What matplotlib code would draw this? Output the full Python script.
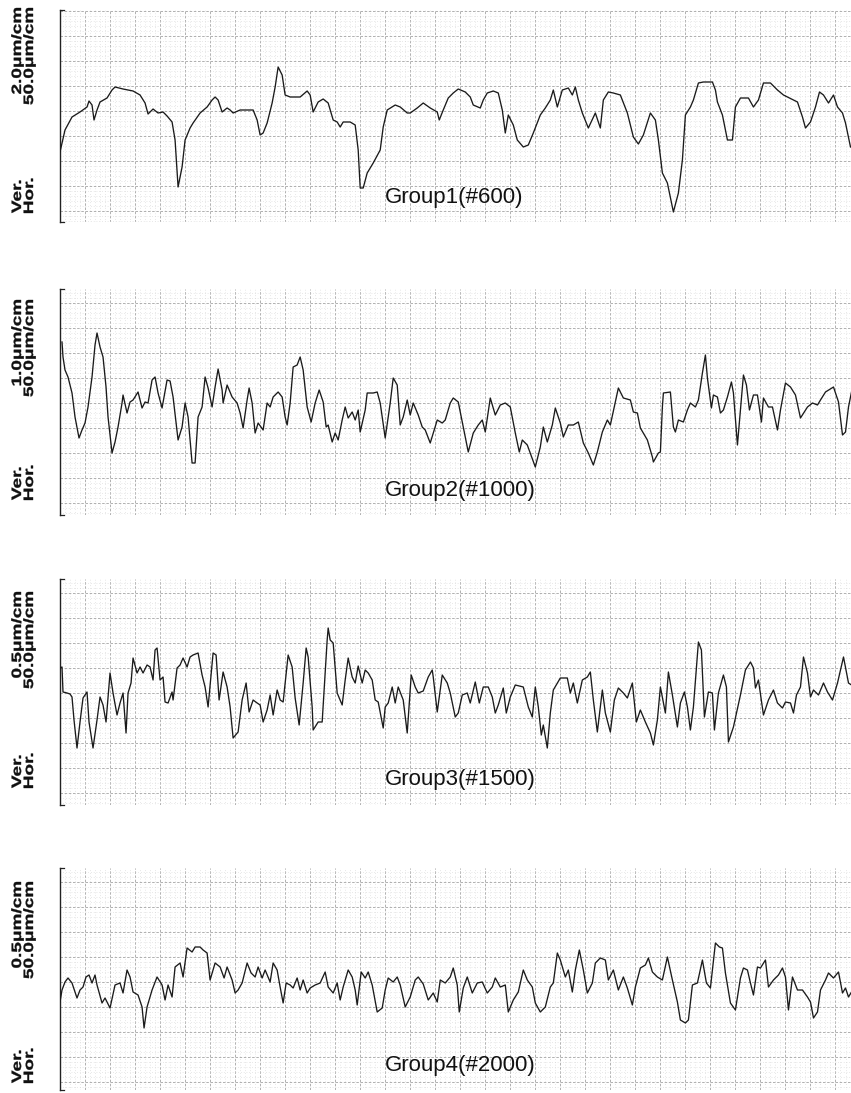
import numpy as np
import matplotlib
matplotlib.use('Agg')
import matplotlib.pyplot as plt
from matplotlib.textpath import TextPath
from matplotlib.patches import PathPatch
from matplotlib.font_manager import FontProperties
from matplotlib.transforms import Affine2D

# --- data: surface profiles, (position, height) in grid units
# (one major grid division = 25 units on both axes)
group_names = ['Group1(#600)', 'Group2(#1000)', 'Group3(#1500)', 'Group4(#2000)']
ver_scale = ['2.0\u03bcm/cm', '1.0\u03bcm/cm', '0.5\u03bcm/cm', '0.5\u03bcm/cm']
hor_scale = ['50.0\u03bcm/cm', '50.0\u03bcm/cm', '50.0\u03bcm/cm', '50.0\u03bcm/cm']

profile1 = [(0,-41),(5,-19),(12,-6),(20,-1),(27,4),(29,10),(32,6),(34,-9),(37,1),(40,9),(47,13),(52,21),(55,24),(63,22),(73,20),(80,16),(85,8),(88,-3),(93,2),(98,-2),(103,-1),(107,-5),(112,-11),(115,-29),(118,-76),(122,-56),(125,-29),(130,-17),(133,-12),(140,-2),(147,4),(152,11),(155,14),(158,11),(162,-1),(167,3),(170,1),(173,-2),(180,1),(193,1),(197,-9),(200,-24),(203,-22),(207,-12),(212,8),(215,24),(218,44),(222,36),(225,16),(230,14),(240,14),(247,20),(250,16),(253,-1),(258,9),(263,12),(268,8),(273,-9),(277,-11),(280,-16),(283,-11),(290,-11),(295,-14),(298,-39),(300,-77),(303,-77),(307,-62),(313,-52),(320,-39),(323,-16),(327,1),(335,6),(340,4),(347,-2),(350,-2),(357,3),(363,8),(370,3),(377,-1),(379,-9),(383,1),(388,13),(393,18),(398,22),(405,19),(410,14),(413,6),(420,3),(423,11),(427,18),(433,20),(438,18),(442,1),(445,-22),(448,-4),(453,-14),(457,-29),(463,-36),(468,-34),(473,-22),(480,-4),(485,3),(490,11),(493,21),(497,4),(502,21),(508,23),(512,16),(515,24),(518,11),(522,-2),(528,-17),(535,-2),(540,-17),(543,11),(548,19),(553,18),(560,16),(567,-2),(573,-26),(578,-33),(583,-24),(590,-2),(595,-9),(598,-29),(602,-62),(607,-72),(613,-101),(618,-82),(622,-49),(625,-4),(630,4),(633,11),(638,28),(643,29),(652,29),(655,21),(657,9),(662,-4),(667,-29),(672,-29),(675,4),(680,13),(688,13),(693,4),(698,11),(703,28),(710,28),(717,21),(723,16),(737,9),(742,-6),(745,-17),(750,-11),(755,4),(759,19),(763,16),(768,8),(773,16),(777,4),(782,-2),(785,-12),(790,-36)]

profile2 = [(2,61),(3,46),(5,33),(8,26),(12,10),(15,-14),(19,-35),(22,-27),(25,-20),(28,-4),(32,26),(35,58),(37,70),(40,56),(43,46),(46,16),(48,-14),(52,-50),(55,-39),(58,-24),(62,0),(63,8),(67,-10),(70,1),(73,3),(78,11),(82,-5),(85,1),(88,0),(92,23),(95,26),(98,10),(102,-5),(107,23),(110,22),(113,6),(118,-37),(122,-24),(125,0),(128,-14),(132,-60),(135,-60),(138,-14),(142,-4),(145,26),(148,15),(152,-4),(155,16),(158,34),(162,13),(163,0),(167,18),(172,6),(177,0),(180,-10),(183,-25),(187,3),(189,15),(192,0),(195,-30),(198,-20),(203,-27),(207,0),(210,-4),(213,6),(218,11),(222,6),(225,-14),(227,-22),(230,0),(233,36),(237,38),(240,46),(243,33),(247,-4),(251,-19),(255,0),(259,13),(263,1),(266,-24),(268,-22),(272,-39),(275,-30),(278,-37),(282,-17),(285,-4),(288,-15),(292,-9),(295,-17),(298,-7),(300,-29),(305,-7),(307,10),(313,10),(317,11),(320,0),(325,-35),(330,0),(333,25),(337,18),(340,-22),(343,-14),(347,3),(350,-12),(353,0),(358,-12),(362,-24),(365,-27),(370,-40),(377,-17),(382,-20),(385,-17),(390,0),(393,5),(398,1),(402,-19),(408,-49),(413,-30),(418,-22),(422,-17),(425,-29),(430,5),(435,-12),(440,-2),(445,0),(450,-4),(455,-30),(459,-49),(462,-37),(467,-42),(475,-64),(480,-44),(483,-24),(487,-39),(492,-22),(495,-5),(500,-20),(503,-34),(508,-22),(513,-22),(518,-19),(523,-40),(528,-50),(533,-62),(537,-49),(542,-29),(547,-17),(550,-22),(558,15),(563,5),(570,3),(573,-9),(577,-10),(580,-25),(587,-37),(592,-54),(593,-59),(598,-50),(600,-49),(602,-4),(603,10),(610,11),(613,-24),(615,-29),(618,-17),(623,-19),(627,-7),(630,0),(635,-4),(638,3),(642,30),(645,48),(647,25),(651,-5),(653,8),(657,6),(660,-10),(663,-7),(667,6),(671,21),(673,10),(677,-42),(680,-7),(683,28),(686,18),(689,-7),(693,8),(697,8),(701,-19),(703,5),(708,-4),(712,-4),(717,-27),(720,-7),(725,20),(730,16),(735,8),(740,-15),(747,-4),(752,0),(757,-2),(760,3),(765,11),(773,16),(778,1),(782,-32),(785,-29),(788,-4),(791,11)]

profile3 = [(0,25),(2,26),(3,1),(7,0),(10,-1),(12,-4),(14,-27),(17,-55),(20,-29),(23,-5),(27,1),(29,-29),(33,-55),(37,-27),(40,-4),(43,-12),(46,-29),(50,20),(53,0),(57,-22),(60,-10),(63,0),(66,-40),(68,0),(71,10),(73,35),(77,20),(80,26),(83,20),(87,28),(90,26),(93,13),(95,43),(97,45),(100,13),(103,16),(105,-9),(108,-10),(112,1),(113,-7),(117,25),(120,28),(123,35),(127,26),(130,36),(133,38),(138,40),(142,18),(145,6),(148,-14),(153,40),(156,38),(159,-7),(163,21),(167,6),(170,-14),(173,-45),(178,-39),(182,-7),(186,10),(189,-19),(193,-7),(197,-10),(200,-12),(203,-29),(207,-17),(210,-2),(213,-22),(217,3),(220,-7),(223,-9),(228,38),(232,26),(235,-5),(239,-32),(243,10),(246,45),(248,36),(252,-14),(253,-37),(258,-29),(262,-29),(267,53),(268,65),(270,53),(273,50),(277,0),(282,-12),(285,13),(288,35),(292,16),(295,10),(298,27),(302,10),(305,23),(308,20),(312,13),(315,-7),(318,-9),(323,-35),(325,-14),(328,-10),(332,6),(335,-10),(338,6),(343,-7),(347,-40),(351,18),(355,6),(358,0),(363,2),(368,16),(372,23),(373,16),(377,-19),(382,18),(387,10),(390,0),(395,-24),(398,-20),(402,-2),(407,0),(410,-10),(415,11),(419,-10),(423,6),(428,6),(432,-4),(435,-20),(438,-12),(443,5),(446,-20),(450,-4),(455,8),(463,6),(468,-14),(472,-24),(475,6),(478,-14),(481,-42),(483,-32),(487,-55),(490,-20),(493,3),(500,15),(507,15),(510,0),(513,10),(517,-10),(522,13),(527,16),(530,21),(533,-7),(537,-39),(542,3),(545,-20),(550,-39),(554,-7),(558,5),(563,0),(567,-5),(572,10),(576,-29),(580,-17),(585,-29),(590,-40),(593,-52),(597,-27),(600,6),(605,-20),(608,21),(612,-2),(617,-34),(620,-10),(624,1),(627,-14),(630,-37),(633,-14),(638,51),(641,43),(644,-24),(648,1),(652,0),(654,-37),(658,0),(663,18),(666,6),(668,-49),(673,-34),(680,-2),(685,23),(690,31),(693,25),(695,5),(698,13),(703,-22),(708,-7),(713,3),(717,-10),(722,-15),(725,-9),(730,-10),(733,-20),(736,-2),(740,6),(743,36),(747,20),(750,-4),(753,3),(758,-2),(763,10),(767,1),(772,-7),(777,10),(783,36),(788,10),(791,8)]

profile4 = [(0,-20),(2,-8),(5,0),(8,4),(12,-1),(17,-16),(20,-8),(23,-5),(26,5),(29,7),(32,-1),(35,7),(37,-3),(42,-21),(45,-16),(50,-26),(55,-3),(60,-1),(63,-11),(67,12),(70,5),(73,-10),(78,-13),(82,-25),(84,-46),(87,-25),(92,-8),(97,5),(102,-3),(105,-18),(108,-3),(112,-15),(115,15),(120,19),(123,5),(127,34),(132,30),(135,35),(140,35),(143,32),(147,29),(150,2),(155,19),(160,15),(164,4),(167,15),(172,2),(175,-11),(178,-8),(182,-1),(187,19),(191,9),(195,5),(198,15),(202,4),(205,12),(210,0),(213,19),(217,12),(220,-5),(223,-21),(226,-1),(230,-3),(233,-6),(237,4),(240,-8),(243,2),(247,-11),(250,-6),(255,-3),(260,-1),(265,10),(268,-5),(273,-11),(277,-1),(280,-18),(283,-5),(288,12),(292,5),(295,-8),(297,-23),(301,10),(305,4),(308,10),(312,-3),(317,-30),(322,-26),(325,-8),(328,4),(333,0),(337,5),(340,-3),(345,-25),(350,-15),(355,2),(358,5),(363,-2),(368,-18),(373,-11),(377,-20),(380,2),(385,-1),(390,5),(393,14),(397,-3),(399,-30),(403,-6),(407,5),(412,-11),(417,-1),(422,0),(427,-11),(432,-5),(435,4),(440,-5),(445,-3),(448,-30),(453,-18),(458,-10),(463,12),(467,2),(472,-5),(475,-21),(480,-30),(485,-25),(490,-5),(493,-1),(497,29),(500,22),(505,5),(508,12),(512,-10),(515,12),(519,32),(523,12),(527,-11),(532,-1),(535,19),(540,24),(545,22),(548,2),(553,12),(558,-8),(563,5),(567,-6),(572,-23),(575,-5),(580,14),(585,17),(588,24),(592,10),(597,5),(602,2),(607,25),(612,2),(617,-20),(620,-38),(625,-41),(628,-38),(632,-3),(637,-1),(642,22),(646,-1),(650,-6),(655,39),(659,35),(662,34),(665,9),(670,-21),(675,-28),(680,4),(683,14),(687,12),(690,-1),(693,-13),(697,15),(700,14),(705,22),(708,-5),(713,2),(718,7),(722,14),(725,5),(728,-28),(732,5),(737,-8),(742,-8),(747,-15),(750,-20),(753,-36),(757,-30),(760,-8),(765,2),(768,9),(773,4),(778,10),(782,-11),(785,-6),(788,-15),(791,-10)]

profiles = [profile1, profile2, profile3, profile4]

# --- layout (pixels of the 851x1093 page)
W, H = 851, 1093
LEFT = 60
panel_top = [10, 289, 579, 868]
panel_bot = [222, 515, 805, 1090]
panel_ylim = [(-111, 101), (-112, 114), (-112, 114), (-108, 114)]
label_top = [8, 300, 592, 882]
label_bot = [213, 500, 788, 1083]

fig = plt.figure(figsize=(W / 100, H / 100), dpi=100)
lab_font = FontProperties(family='Liberation Sans', weight='bold')


def stretched_text(s, x_base, y_px, from_end):
    # rotated scale label, glyphs stretched along the text like the plotter font
    tp = TextPath((0, 0), s, size=1, prop=lab_font)
    ext = tp.get_extents()
    x0 = ext.x1 if from_end else ext.x0
    tr = (Affine2D().translate(-x0, 0).scale(19.0, 13.5).rotate_deg(90)
          .translate(x_base, H - y_px).scale(1.0 / W, 1.0 / H))
    fig.add_artist(PathPatch(tp, transform=tr + fig.transFigure,
                             facecolor='#111111', edgecolor='#111111', lw=0.25))


for i in range(4):
    top, bot = panel_top[i], panel_bot[i]
    ax = fig.add_axes([LEFT / W, 1 - bot / H, (W - LEFT) / W + 0.01, (bot - top) / H])
    xy = np.array(profiles[i], dtype=float)
    ax.plot(xy[:, 0], xy[:, 1], color='#1a1a1a', lw=0.95, zorder=3)

    ax.set_xticks(np.arange(0, 826, 25))
    ax.set_xticks(np.arange(0, 826, 5), minor=True)
    ax.set_yticks(np.arange(-100, 126, 25))
    ax.set_yticks(np.arange(-110, 126, 5), minor=True)
    # limits after the ticks, otherwise set_xticks widens the view
    ax.set_xlim(0, W - LEFT + 8)
    ax.set_ylim(*panel_ylim[i])
    ax.tick_params(which='both', length=0, labelbottom=False, labelleft=False)
    ax.grid(which='minor', color='#d2d2d2', lw=0.5, ls=(0, (1, 3)))
    ax.grid(which='major', color='#a3a3a3', lw=0.6, ls=(0, (3, 2)))
    ax.set_axisbelow(True)

    ax.spines['right'].set_visible(False)
    ax.spines['left'].set_color('#222222')
    ax.spines['left'].set_linewidth(1.0)
    for sp in ['top', 'bottom']:
        ax.spines[sp].set_bounds(0, 4)
        ax.spines[sp].set_color('#222222')
        ax.spines[sp].set_linewidth(0.9)

    ax.text(325, (panel_ylim[i][0] + 25), group_names[i], fontsize=16,
            family='Liberation Sans', color='#111111', ha='left', va='center')

    stretched_text('Ver.', 21, label_bot[i], False)
    stretched_text('Hor.', 33, label_bot[i], False)
    stretched_text(ver_scale[i], 21, label_top[i], True)
    stretched_text(hor_scale[i], 33, label_top[i], True)

fig.savefig('out.png', dpi=100)
